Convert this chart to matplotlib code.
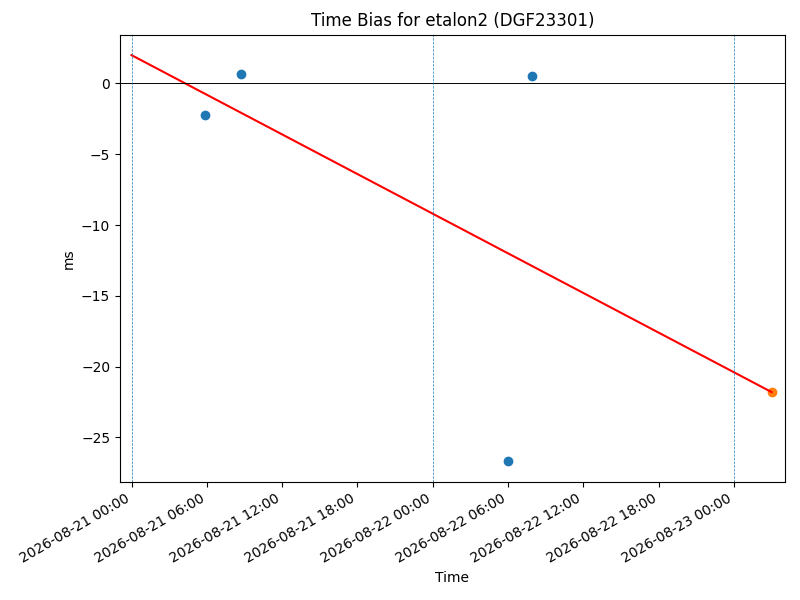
import numpy as np
import matplotlib
matplotlib.use("Agg")
import matplotlib.pyplot as plt
import matplotlib.dates as mdates

# observed biases (ms)
obs_times = np.array(["2026-08-21T05:50", "2026-08-21T08:45",
                      "2026-08-22T06:00", "2026-08-22T07:55"], dtype="datetime64[m]")
obs_bias = [-2.2, 0.7, -26.7, 0.5]

# predicted point
pred_time = np.array(["2026-08-23T03:00"], dtype="datetime64[m]")
pred_bias = [-21.8]

# fitted trend line endpoints
fit_times = np.array(["2026-08-21T00:00", "2026-08-23T03:00"], dtype="datetime64[m]")
fit_bias = [2.0, -21.8]

day_marks = np.array(["2026-08-21T00:00", "2026-08-22T00:00", "2026-08-23T00:00"],
                     dtype="datetime64[m]")

fig, ax = plt.subplots(figsize=(8, 6), dpi=100)
fig.subplots_adjust(left=0.15, right=0.981, top=0.942, bottom=0.197)

ax.plot(fit_times.astype("O"), fit_bias, color="red")
ax.scatter(obs_times.astype("O"), obs_bias, color="C0")
ax.scatter(pred_time.astype("O"), pred_bias, color="C1")
ax.axhline(0, color="black", linewidth=0.7)
for d in day_marks.astype("O"):
    ax.axvline(d, color="C0", linestyle="--", linewidth=0.5)

ax.set_xlim(np.datetime64("2026-08-20T23:05").astype("O"),
            np.datetime64("2026-08-23T04:03").astype("O"))
ax.xaxis.set_major_locator(mdates.HourLocator(byhour=[0, 6, 12, 18]))
ax.xaxis.set_major_formatter(mdates.DateFormatter("%Y-%m-%d %H:%M"))
for lbl in ax.get_xticklabels():
    lbl.set_rotation(30)
    lbl.set_ha("right")

ax.set_title("Time Bias for etalon2 (DGF23301)")
ax.set_xlabel("Time")
ax.set_ylabel("ms")

fig.savefig("out.png")
